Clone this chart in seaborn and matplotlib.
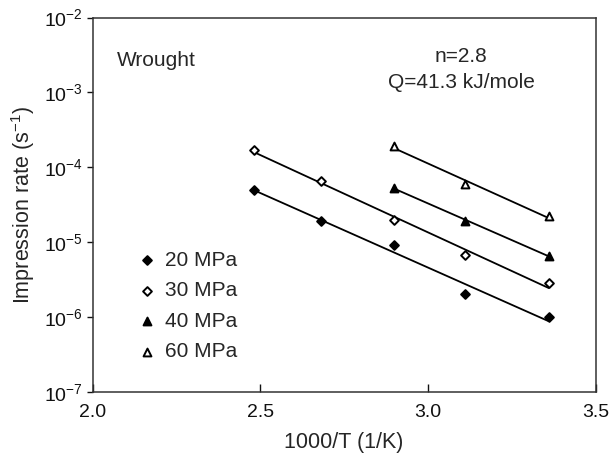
import numpy as np
import pandas as pd
import matplotlib
matplotlib.use("Agg")
import matplotlib.pyplot as plt
import seaborn as sns

# ---- data ----
x_20 = [2.48, 2.68, 2.90, 3.11, 3.36]
y_20 = [5.0e-5, 1.9e-5, 9.0e-6, 2.0e-6, 1.0e-6]

x_30 = [2.48, 2.68, 2.90, 3.11, 3.36]
y_30 = [1.68e-4, 6.5e-5, 2.0e-5, 6.8e-6, 2.8e-6]

x_40 = [2.90, 3.11, 3.36]
y_40 = [5.3e-5, 1.9e-5, 6.6e-6]

x_60 = [2.90, 3.11, 3.36]
y_60 = [1.9e-4, 6.0e-5, 2.2e-5]

labels = ["20 MPa", "30 MPa", "40 MPa", "60 MPa"]
x_ticks = [2.0, 2.5, 3.0, 3.5]
y_exps = [-7, -6, -5, -4, -3, -2]

sns.set_theme(style="ticks")
plt.rcParams["font.family"] = ["Liberation Sans", "DejaVu Sans"]
plt.rcParams["mathtext.fontset"] = "custom"
plt.rcParams["mathtext.rm"] = "Liberation Sans"
plt.rcParams["mathtext.default"] = "regular"

series = [(x_20, y_20), (x_30, y_30), (x_40, y_40), (x_60, y_60)]
frames = []
for lab, (xs, ys) in zip(labels, series):
    frames.append(pd.DataFrame({"x": xs, "y": ys, "stress": lab}))
df = pd.concat(frames, ignore_index=True)

# marker, face colour, size per series
styles = {
    "20 MPa": ("D", "black", 20),
    "30 MPa": ("D", "white", 20),
    "40 MPa": ("^", "black", 32),
    "60 MPa": ("^", "white", 32),
}

fig = plt.figure(figsize=(6.11, 4.55), dpi=100)
ax = fig.add_axes([0.1514, 0.139, 0.8236, 0.8225])

for lab in labels:
    sub = df[df["stress"] == lab]
    # least-squares line in log space, drawn between first and last point
    k, b = np.polyfit(sub["x"], np.log10(sub["y"]), 1)
    xe = np.array([sub["x"].min(), sub["x"].max()])
    sns.lineplot(x=xe, y=10 ** (k * xe + b), color="black", lw=1.3, ax=ax, legend=False)

for lab in labels:
    sub = df[df["stress"] == lab]
    m, fc, s = styles[lab]
    sns.scatterplot(data=sub, x="x", y="y", marker=m, s=s, color=fc,
                    edgecolor="black", linewidth=1.4, label=lab, ax=ax, zorder=3)

ax.set_yscale("log")
ax.set_xlim(2.0, 3.5)
ax.set_ylim(1e-7, 1e-2)
ax.set_xticks(x_ticks)
ax.set_xticklabels([f"{v:.1f}" for v in x_ticks])
ax.set_yticks([10.0 ** e for e in y_exps])
ax.set_yticklabels([f"$10^{{{e}}}$" for e in y_exps])
ax.yaxis.set_minor_locator(matplotlib.ticker.NullLocator())

ax.tick_params(axis="x", direction="in", length=6, width=1, labelsize=14, pad=9, colors="#111111")
ax.tick_params(axis="y", direction="out", length=4, width=1, labelsize=14, pad=3, colors="#111111")
for sp in ax.spines.values():
    sp.set_visible(True)
    sp.set_color("#333333")
    sp.set_linewidth(1.1)

ax.set_xlabel("1000/T (1/K)", fontsize=15.5, labelpad=8)
ax.set_ylabel("Impression rate (s$^{-1}$)", fontsize=15.5, labelpad=5)

ax.text(0.049, 0.886, "Wrought", transform=ax.transAxes, fontsize=15, va="center", ha="left")
ax.text(0.732, 0.895, "n=2.8", transform=ax.transAxes, fontsize=15, va="center", ha="center")
ax.text(0.734, 0.826, "Q=41.3 kJ/mole", transform=ax.transAxes, fontsize=15, va="center", ha="center")

ax.legend(loc="upper left", bbox_to_anchor=(0.092, 0.377), frameon=False, fontsize=15,
          handletextpad=0.45, handlelength=0.8, labelspacing=0.55, borderpad=0,
          borderaxespad=0)

fig.savefig("out.png", dpi=100)
